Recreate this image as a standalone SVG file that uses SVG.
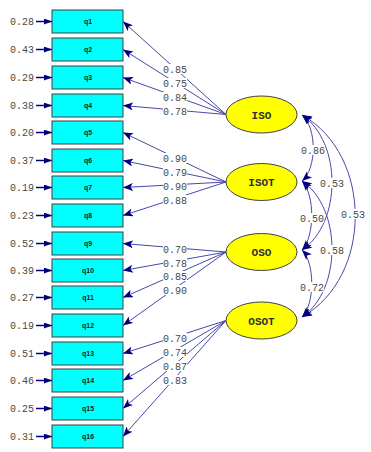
<svg xmlns="http://www.w3.org/2000/svg" width="371" height="452" viewBox="0 0 371 452">
<style>
.box{fill:#00ffff;stroke:#404040;stroke-width:1}
.lat{fill:#ffff00;stroke:#404040;stroke-width:1}
.ql{font-family:"Liberation Sans",Arial,sans-serif;font-size:7px;font-weight:bold;fill:#202020;text-anchor:middle}
.ll{font-family:"Liberation Mono","Courier New",monospace;font-size:11px;font-weight:bold;fill:#303030;text-anchor:middle}
.num{font-family:"Liberation Mono","Courier New",monospace;font-size:10px;fill:#484848}
.err{text-anchor:end}
.lab{text-anchor:middle}
.bg{fill:#ffffff}
.ld{stroke:#4848a8;stroke-width:1;fill:none;marker-end:url(#ah)}
.cv{stroke:#4848a8;stroke-width:1;fill:none;marker-start:url(#ahs);marker-end:url(#ah)}
.ea{stroke:#000080;stroke-width:1.5;marker-end:url(#eh)}
</style>
<defs>
<marker id="ah" markerUnits="userSpaceOnUse" markerWidth="10" markerHeight="8" refX="10" refY="4" orient="auto">
<path d="M0,0 L10,4 L0,8 L2.5,4 Z" fill="#000080"/>
</marker>
<marker id="ahs" markerUnits="userSpaceOnUse" markerWidth="10" markerHeight="8" refX="0" refY="4" orient="auto">
<path d="M10,0 L0,4 L10,8 L7.5,4 Z" fill="#000080"/>
</marker>
<marker id="eh" markerUnits="userSpaceOnUse" markerWidth="8" markerHeight="6" refX="8" refY="3" orient="auto">
<path d="M0,0 L8,3 L0,6 Z" fill="#000080"/>
</marker>
</defs>
<g id="connectors">
<!-- error arrows -->
<line class="ea" x1="36" y1="21.5" x2="52" y2="21.5"/>
<line class="ea" x1="36" y1="49.5" x2="52" y2="49.5"/>
<line class="ea" x1="36" y1="77.5" x2="52" y2="77.5"/>
<line class="ea" x1="36" y1="105.5" x2="52" y2="105.5"/>
<line class="ea" x1="36" y1="132.5" x2="52" y2="132.5"/>
<line class="ea" x1="36" y1="160.5" x2="52" y2="160.5"/>
<line class="ea" x1="36" y1="187.5" x2="52" y2="187.5"/>
<line class="ea" x1="36" y1="215.5" x2="52" y2="215.5"/>
<line class="ea" x1="36" y1="243.5" x2="52" y2="243.5"/>
<line class="ea" x1="36" y1="270.5" x2="52" y2="270.5"/>
<line class="ea" x1="36" y1="297.5" x2="52" y2="297.5"/>
<line class="ea" x1="36" y1="325.5" x2="52" y2="325.5"/>
<line class="ea" x1="36" y1="353.5" x2="52" y2="353.5"/>
<line class="ea" x1="36" y1="380.5" x2="52" y2="380.5"/>
<line class="ea" x1="36" y1="408.5" x2="52" y2="408.5"/>
<line class="ea" x1="36" y1="436.5" x2="52" y2="436.5"/>
<!-- loadings -->
<line class="ld" x1="226" y1="114.5" x2="123" y2="21.5"/>
<line class="ld" x1="226" y1="114.5" x2="123" y2="49.5"/>
<line class="ld" x1="226" y1="114.5" x2="123" y2="77.5"/>
<line class="ld" x1="226" y1="114.5" x2="123" y2="105.5"/>
<line class="ld" x1="226" y1="182" x2="123" y2="132.5"/>
<line class="ld" x1="226" y1="182" x2="123" y2="160.5"/>
<line class="ld" x1="226" y1="182" x2="123" y2="187.5"/>
<line class="ld" x1="226" y1="182" x2="123" y2="215.5"/>
<line class="ld" x1="226" y1="252" x2="123" y2="243.5"/>
<line class="ld" x1="226" y1="252" x2="123" y2="270.5"/>
<line class="ld" x1="226" y1="252" x2="123" y2="297.5"/>
<line class="ld" x1="226" y1="252" x2="123" y2="325.5"/>
<line class="ld" x1="226" y1="320.5" x2="123" y2="353.5"/>
<line class="ld" x1="226" y1="320.5" x2="123" y2="380.5"/>
<line class="ld" x1="226" y1="320.5" x2="123" y2="408.5"/>
<line class="ld" x1="226" y1="320.5" x2="123" y2="436.5"/>
<!-- covariances -->
<path class="cv" d="M302,115 C317,128 317,168 302,181"/>
<path class="cv" d="M302,115 C342,142 342,223 302,250"/>
<path class="cv" d="M302,115 C373,155 373,277 302,317"/>
<path class="cv" d="M302,181 C315,195 315,236 302,250"/>
<path class="cv" d="M302,181 C342,208 342,290 302,317"/>
<path class="cv" d="M302,250 C315,263 315,304 302,317"/>
<!-- loading labels -->
<g class="num lab">
<rect class="bg" x="163" y="64" width="24" height="10"/><text x="175" y="73">0.85</text>
<rect class="bg" x="163" y="78" width="24" height="10"/><text x="175" y="87">0.75</text>
<rect class="bg" x="163" y="92" width="24" height="10"/><text x="175" y="101">0.84</text>
<rect class="bg" x="163" y="106" width="24" height="10"/><text x="175" y="115">0.78</text>
<rect class="bg" x="163" y="153" width="24" height="10"/><text x="175" y="162">0.90</text>
<rect class="bg" x="163" y="167" width="24" height="10"/><text x="175" y="176">0.79</text>
<rect class="bg" x="163" y="181" width="24" height="10"/><text x="175" y="190">0.90</text>
<rect class="bg" x="163" y="195" width="24" height="10"/><text x="175" y="204">0.88</text>
<rect class="bg" x="163" y="244" width="24" height="10"/><text x="175" y="253">0.70</text>
<rect class="bg" x="163" y="258" width="24" height="10"/><text x="175" y="267">0.78</text>
<rect class="bg" x="163" y="271" width="24" height="10"/><text x="175" y="280">0.85</text>
<rect class="bg" x="163" y="285" width="24" height="10"/><text x="175" y="294">0.90</text>
<rect class="bg" x="163" y="333" width="24" height="10"/><text x="175" y="342">0.70</text>
<rect class="bg" x="163" y="347" width="24" height="10"/><text x="175" y="356">0.74</text>
<rect class="bg" x="163" y="361" width="24" height="10"/><text x="175" y="370">0.87</text>
<rect class="bg" x="163" y="375" width="24" height="10"/><text x="175" y="384">0.83</text>
<rect class="bg" x="301" y="145" width="24" height="10"/><text x="313" y="154">0.86</text>
<rect class="bg" x="320" y="178" width="24" height="10"/><text x="332" y="187">0.53</text>
<rect class="bg" x="341" y="209" width="24" height="10"/><text x="353" y="218">0.53</text>
<rect class="bg" x="300" y="213" width="24" height="10"/><text x="312" y="222">0.50</text>
<rect class="bg" x="320" y="245" width="24" height="10"/><text x="332" y="254">0.58</text>
<rect class="bg" x="300" y="282" width="24" height="10"/><text x="312" y="291">0.72</text>
</g>
</g>
<g id="q1"><rect class="box" x="52" y="10" width="71" height="23"/><text class="ql" x="88" y="24">q1</text><text class="num err" x="34" y="25">0.28</text></g>
<g id="q2"><rect class="box" x="52" y="38" width="71" height="23"/><text class="ql" x="88" y="52">q2</text><text class="num err" x="34" y="53">0.43</text></g>
<g id="q3"><rect class="box" x="52" y="66" width="71" height="23"/><text class="ql" x="88" y="80">q3</text><text class="num err" x="34" y="81">0.29</text></g>
<g id="q4"><rect class="box" x="52" y="94" width="71" height="23"/><text class="ql" x="88" y="108">q4</text><text class="num err" x="34" y="109">0.38</text></g>
<g id="q5"><rect class="box" x="52" y="121" width="71" height="23"/><text class="ql" x="88" y="135">q5</text><text class="num err" x="34" y="136">0.20</text></g>
<g id="q6"><rect class="box" x="52" y="149" width="71" height="23"/><text class="ql" x="88" y="163">q6</text><text class="num err" x="34" y="164">0.37</text></g>
<g id="q7"><rect class="box" x="52" y="176" width="71" height="23"/><text class="ql" x="88" y="190">q7</text><text class="num err" x="34" y="191">0.19</text></g>
<g id="q8"><rect class="box" x="52" y="204" width="71" height="23"/><text class="ql" x="88" y="218">q8</text><text class="num err" x="34" y="219">0.23</text></g>
<g id="q9"><rect class="box" x="52" y="232" width="71" height="23"/><text class="ql" x="88" y="246">q9</text><text class="num err" x="34" y="247">0.52</text></g>
<g id="q10"><rect class="box" x="52" y="259" width="71" height="23"/><text class="ql" x="88" y="273">q10</text><text class="num err" x="34" y="274">0.39</text></g>
<g id="q11"><rect class="box" x="52" y="286" width="71" height="23"/><text class="ql" x="88" y="300">q11</text><text class="num err" x="34" y="301">0.27</text></g>
<g id="q12"><rect class="box" x="52" y="314" width="71" height="23"/><text class="ql" x="88" y="328">q12</text><text class="num err" x="34" y="329">0.19</text></g>
<g id="q13"><rect class="box" x="52" y="342" width="71" height="23"/><text class="ql" x="88" y="356">q13</text><text class="num err" x="34" y="357">0.51</text></g>
<g id="q14"><rect class="box" x="52" y="369" width="71" height="23"/><text class="ql" x="88" y="383">q14</text><text class="num err" x="34" y="384">0.46</text></g>
<g id="q15"><rect class="box" x="52" y="397" width="71" height="23"/><text class="ql" x="88" y="411">q15</text><text class="num err" x="34" y="412">0.25</text></g>
<g id="q16"><rect class="box" x="52" y="425" width="71" height="23"/><text class="ql" x="88" y="439">q16</text><text class="num err" x="34" y="440">0.31</text></g>
<g id="ISO"><ellipse class="lat" cx="261.5" cy="114.5" rx="35.5" ry="18.5"/><text class="ll" x="261.5" y="118.5">ISO</text></g>
<g id="ISOT"><ellipse class="lat" cx="261.5" cy="182" rx="35.5" ry="18.5"/><text class="ll" x="261.5" y="186">ISOT</text></g>
<g id="OSO"><ellipse class="lat" cx="261.5" cy="252" rx="35.5" ry="18.5"/><text class="ll" x="261.5" y="256">OSO</text></g>
<g id="OSOT"><ellipse class="lat" cx="261.5" cy="320.5" rx="35.5" ry="18.5"/><text class="ll" x="261.5" y="324.5">OSOT</text></g>
</svg>
